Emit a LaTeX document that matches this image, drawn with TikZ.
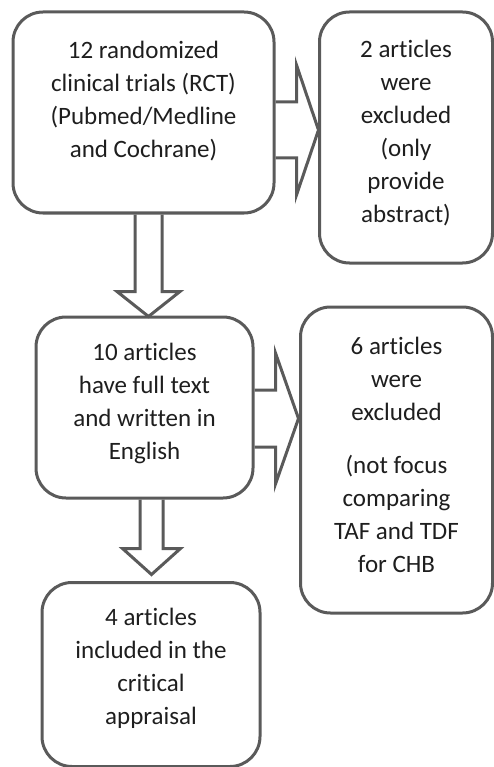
\documentclass[tikz,border=0pt]{standalone}
\usepackage{fontspec}
\setmainfont{Carlito}[Ligatures=NoCommon]
\usetikzlibrary{calc}
\definecolor{FrameGray}{HTML}{5A5A5A}
\definecolor{TextInk}{HTML}{1E1E1E}
\tikzset{
  flowbox/.style={draw=FrameGray, line width=3pt, rounded corners=30pt, inner sep=0},
  flowtext/.style={align=center, text=TextInk, font=\fontsize{25}{33}\selectfont},
  hollowarrow/.style={draw=FrameGray, line width=3pt, line join=miter}
}
\begin{document}
\begin{tikzpicture}[x=1pt, y=-1pt]
    \useasboundingbox (0,0) rectangle (494,767);
    % boxes
    \node[flowbox, minimum width=261pt, minimum height=201pt] (trials) at (143.5,112.5) {};
    \node[flowbox, minimum width=173pt, minimum height=251pt] (abstract) at (406,137.5) {};
    \node[flowbox, minimum width=192pt, minimum height=306pt] (offtopic) at (396.5,460) {};
    \node[flowbox, minimum width=217pt, minimum height=181pt] (fulltext) at (144.5,407.5) {};
    \node[flowbox, minimum width=218pt, minimum height=184pt] (included) at (151,674.5) {};
    % texts
    \node[flowtext] at ([yshift=11.5pt]trials.center) {12 randomized\\clinical trials (RCT)\\(Pubmed/Medline\\and Cochrane)};
    \node[flowtext] at ([yshift=4.5pt]abstract.center) {2 articles\\were\\excluded\\(only\\provide\\abstract)};
    \node[flowtext] at ([yshift=4.5pt]fulltext.center) {10 articles\\have full text\\and written in\\English};
    \node[flowtext] at ([yshift=5pt]offtopic.center) {6 articles\\were\\excluded\\[20pt](not focus\\comparing\\TAF and TDF\\for CHB};
    \node[flowtext] at ([yshift=6.5pt]included.center) {4 articles\\included in the\\critical\\appraisal};
    % block arrows
    \draw[hollowarrow] ([yshift=-17.5pt]trials.east) ++(0,-28) -- ++(21,0) -- ++(0,-37) -- ++(22,65) -- ++(-22,65) -- ++(0,-37) -- ++(-21,0);
    \draw[hollowarrow] ([xshift=5pt]trials.south) ++(-13.5,0) -- ++(0,77) -- ++(-18,0) -- ++(31.5,25) -- ++(31.5,-25) -- ++(-18,0) -- ++(0,-77);
    \draw[hollowarrow] ([yshift=-11pt]fulltext.east) ++(0,-28.5) -- ++(21,0) -- ++(0,-37) -- ++(23,65.5) -- ++(-23,65.5) -- ++(0,-37) -- ++(-21,0);
    \draw[hollowarrow] ([xshift=7pt]fulltext.south) ++(-11.5,0) -- ++(0,49) -- ++(-17.5,0) -- ++(29,26) -- ++(29,-26) -- ++(-17.5,0) -- ++(0,-49);
\end{tikzpicture}
\end{document}
